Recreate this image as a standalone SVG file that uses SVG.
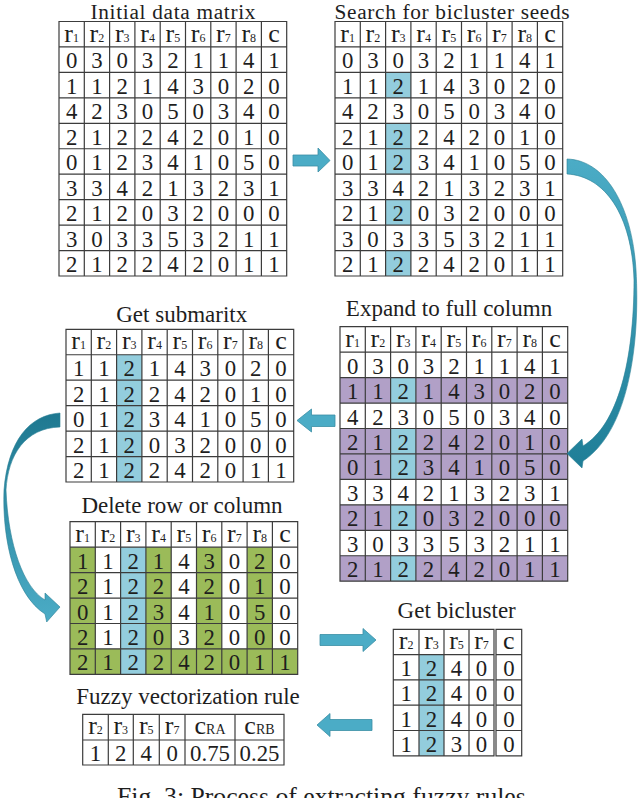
<svg xmlns="http://www.w3.org/2000/svg" xmlns:xlink="http://www.w3.org/1999/xlink" width="640" height="798" viewBox="0 0 640 798">
<style>
text{font-family:"Liberation Serif","Times New Roman",serif;fill:#1e1e1e}
.t{font-size:23px;text-anchor:middle}
.t2{font-size:21.3px;text-anchor:middle}
.d text{font-size:22.8px;text-anchor:middle}
.h,.d text.h{font-size:26px;text-anchor:middle}
.s{font-size:12px}
.sc{font-size:14px}
.grid{fill:none;stroke:#3c3c3c;stroke-width:1.2}
.b{fill:#93CDDD}
.p{fill:#B1A0C7}
.g{fill:#9BBB59}
.arr{fill:#4BACC6;stroke:#3A8EA5;stroke-width:0.8}
.cap{font-size:25.7px}
</style>
<defs>
<path id="g10" d="M0,0H227.7V254.5H0Z M25.3,0V254.5 M50.6,0V254.5 M75.9,0V254.5 M101.2,0V254.5 M126.5,0V254.5 M151.8,0V254.5 M177.1,0V254.5 M202.4,0V254.5 M0,25.45H227.7 M0,50.9H227.7 M0,76.35H227.7 M0,101.8H227.7 M0,127.25H227.7 M0,152.7H227.7 M0,178.15H227.7 M0,203.6H227.7 M0,229.05H227.7"/>
<path id="g6" d="M0,0H227.7V152.7H0Z M25.3,0V152.7 M50.6,0V152.7 M75.9,0V152.7 M101.2,0V152.7 M126.5,0V152.7 M151.8,0V152.7 M177.1,0V152.7 M202.4,0V152.7 M0,25.45H227.7 M0,50.9H227.7 M0,76.35H227.7 M0,101.8H227.7 M0,127.25H227.7"/>
<g id="hdr9"><text class="h" x="12.65">r<tspan class="s">1</tspan></text><text class="h" x="37.95">r<tspan class="s">2</tspan></text><text class="h" x="63.25">r<tspan class="s">3</tspan></text><text class="h" x="88.55">r<tspan class="s">4</tspan></text><text class="h" x="113.85">r<tspan class="s">5</tspan></text><text class="h" x="139.15">r<tspan class="s">6</tspan></text><text class="h" x="164.45">r<tspan class="s">7</tspan></text><text class="h" x="189.75">r<tspan class="s">8</tspan></text><text class="h" x="215.05">c</text></g>
<linearGradient id="gE" x1="0" y1="0" x2="0" y2="1"><stop offset="0" stop-color="#4BACC6"/><stop offset="1" stop-color="#1F7E97"/></linearGradient>
<linearGradient id="gF" x1="0" y1="0" x2="0" y2="1"><stop offset="0" stop-color="#1E7890"/><stop offset="1" stop-color="#4BACC6"/></linearGradient>
</defs>

<g id="initial-matrix">
<text class="t2" x="173" y="19" textLength="165" lengthAdjust="spacing">Initial data matrix</text>
<g transform="translate(59,21.5)">
<use href="#g10" class="grid"/>
<g class="d">
<g transform="translate(0,20)"><use href="#hdr9"/></g>
<g transform="translate(0,46.9)"><text x="12.65">0</text><text x="37.95">3</text><text x="63.25">0</text><text x="88.55">3</text><text x="113.85">2</text><text x="139.15">1</text><text x="164.45">1</text><text x="189.75">4</text><text x="215.05">1</text></g>
<g transform="translate(0,72.35)"><text x="12.65">1</text><text x="37.95">1</text><text x="63.25">2</text><text x="88.55">1</text><text x="113.85">4</text><text x="139.15">3</text><text x="164.45">0</text><text x="189.75">2</text><text x="215.05">0</text></g>
<g transform="translate(0,97.8)"><text x="12.65">4</text><text x="37.95">2</text><text x="63.25">3</text><text x="88.55">0</text><text x="113.85">5</text><text x="139.15">0</text><text x="164.45">3</text><text x="189.75">4</text><text x="215.05">0</text></g>
<g transform="translate(0,123.25)"><text x="12.65">2</text><text x="37.95">1</text><text x="63.25">2</text><text x="88.55">2</text><text x="113.85">4</text><text x="139.15">2</text><text x="164.45">0</text><text x="189.75">1</text><text x="215.05">0</text></g>
<g transform="translate(0,148.7)"><text x="12.65">0</text><text x="37.95">1</text><text x="63.25">2</text><text x="88.55">3</text><text x="113.85">4</text><text x="139.15">1</text><text x="164.45">0</text><text x="189.75">5</text><text x="215.05">0</text></g>
<g transform="translate(0,174.15)"><text x="12.65">3</text><text x="37.95">3</text><text x="63.25">4</text><text x="88.55">2</text><text x="113.85">1</text><text x="139.15">3</text><text x="164.45">2</text><text x="189.75">3</text><text x="215.05">1</text></g>
<g transform="translate(0,199.6)"><text x="12.65">2</text><text x="37.95">1</text><text x="63.25">2</text><text x="88.55">0</text><text x="113.85">3</text><text x="139.15">2</text><text x="164.45">0</text><text x="189.75">0</text><text x="215.05">0</text></g>
<g transform="translate(0,225.05)"><text x="12.65">3</text><text x="37.95">0</text><text x="63.25">3</text><text x="88.55">3</text><text x="113.85">5</text><text x="139.15">3</text><text x="164.45">2</text><text x="189.75">1</text><text x="215.05">1</text></g>
<g transform="translate(0,250.5)"><text x="12.65">2</text><text x="37.95">1</text><text x="63.25">2</text><text x="88.55">2</text><text x="113.85">4</text><text x="139.15">2</text><text x="164.45">0</text><text x="189.75">1</text><text x="215.05">1</text></g>
</g>
</g>
</g>

<g id="bicluster-seeds">
<text class="t2" x="452" y="19" textLength="235" lengthAdjust="spacing">Search for bicluster seeds</text>
<g transform="translate(335,21.5)">
<rect class="b" x="50.6" y="50.9" width="25.3" height="25.45"/>
<rect class="b" x="50.6" y="101.8" width="25.3" height="50.9"/>
<rect class="b" x="50.6" y="178.15" width="25.3" height="25.45"/>
<rect class="b" x="50.6" y="229.05" width="25.3" height="25.45"/>
<use href="#g10" class="grid"/>
<g class="d">
<g transform="translate(0,20)"><use href="#hdr9"/></g>
<g transform="translate(0,46.9)"><text x="12.65">0</text><text x="37.95">3</text><text x="63.25">0</text><text x="88.55">3</text><text x="113.85">2</text><text x="139.15">1</text><text x="164.45">1</text><text x="189.75">4</text><text x="215.05">1</text></g>
<g transform="translate(0,72.35)"><text x="12.65">1</text><text x="37.95">1</text><text x="63.25">2</text><text x="88.55">1</text><text x="113.85">4</text><text x="139.15">3</text><text x="164.45">0</text><text x="189.75">2</text><text x="215.05">0</text></g>
<g transform="translate(0,97.8)"><text x="12.65">4</text><text x="37.95">2</text><text x="63.25">3</text><text x="88.55">0</text><text x="113.85">5</text><text x="139.15">0</text><text x="164.45">3</text><text x="189.75">4</text><text x="215.05">0</text></g>
<g transform="translate(0,123.25)"><text x="12.65">2</text><text x="37.95">1</text><text x="63.25">2</text><text x="88.55">2</text><text x="113.85">4</text><text x="139.15">2</text><text x="164.45">0</text><text x="189.75">1</text><text x="215.05">0</text></g>
<g transform="translate(0,148.7)"><text x="12.65">0</text><text x="37.95">1</text><text x="63.25">2</text><text x="88.55">3</text><text x="113.85">4</text><text x="139.15">1</text><text x="164.45">0</text><text x="189.75">5</text><text x="215.05">0</text></g>
<g transform="translate(0,174.15)"><text x="12.65">3</text><text x="37.95">3</text><text x="63.25">4</text><text x="88.55">2</text><text x="113.85">1</text><text x="139.15">3</text><text x="164.45">2</text><text x="189.75">3</text><text x="215.05">1</text></g>
<g transform="translate(0,199.6)"><text x="12.65">2</text><text x="37.95">1</text><text x="63.25">2</text><text x="88.55">0</text><text x="113.85">3</text><text x="139.15">2</text><text x="164.45">0</text><text x="189.75">0</text><text x="215.05">0</text></g>
<g transform="translate(0,225.05)"><text x="12.65">3</text><text x="37.95">0</text><text x="63.25">3</text><text x="88.55">3</text><text x="113.85">5</text><text x="139.15">3</text><text x="164.45">2</text><text x="189.75">1</text><text x="215.05">1</text></g>
<g transform="translate(0,250.5)"><text x="12.65">2</text><text x="37.95">1</text><text x="63.25">2</text><text x="88.55">2</text><text x="113.85">4</text><text x="139.15">2</text><text x="164.45">0</text><text x="189.75">1</text><text x="215.05">1</text></g>
</g>
</g>
</g>

<g id="expand-full-column">
<text class="t" x="449" y="316">Expand to full column</text>
<g transform="translate(340,326.7)">
<rect class="p" x="0" y="50.9" width="227.7" height="25.45"/>
<rect class="p" x="0" y="101.8" width="227.7" height="50.9"/>
<rect class="p" x="0" y="178.15" width="227.7" height="25.45"/>
<rect class="p" x="0" y="229.05" width="227.7" height="25.45"/>
<rect class="b" x="50.6" y="50.9" width="25.3" height="25.45"/>
<rect class="b" x="50.6" y="101.8" width="25.3" height="50.9"/>
<rect class="b" x="50.6" y="178.15" width="25.3" height="25.45"/>
<rect class="b" x="50.6" y="229.05" width="25.3" height="25.45"/>
<use href="#g10" class="grid"/>
<g class="d">
<g transform="translate(0,20)"><use href="#hdr9"/></g>
<g transform="translate(0,46.9)"><text x="12.65">0</text><text x="37.95">3</text><text x="63.25">0</text><text x="88.55">3</text><text x="113.85">2</text><text x="139.15">1</text><text x="164.45">1</text><text x="189.75">4</text><text x="215.05">1</text></g>
<g transform="translate(0,72.35)"><text x="12.65">1</text><text x="37.95">1</text><text x="63.25">2</text><text x="88.55">1</text><text x="113.85">4</text><text x="139.15">3</text><text x="164.45">0</text><text x="189.75">2</text><text x="215.05">0</text></g>
<g transform="translate(0,97.8)"><text x="12.65">4</text><text x="37.95">2</text><text x="63.25">3</text><text x="88.55">0</text><text x="113.85">5</text><text x="139.15">0</text><text x="164.45">3</text><text x="189.75">4</text><text x="215.05">0</text></g>
<g transform="translate(0,123.25)"><text x="12.65">2</text><text x="37.95">1</text><text x="63.25">2</text><text x="88.55">2</text><text x="113.85">4</text><text x="139.15">2</text><text x="164.45">0</text><text x="189.75">1</text><text x="215.05">0</text></g>
<g transform="translate(0,148.7)"><text x="12.65">0</text><text x="37.95">1</text><text x="63.25">2</text><text x="88.55">3</text><text x="113.85">4</text><text x="139.15">1</text><text x="164.45">0</text><text x="189.75">5</text><text x="215.05">0</text></g>
<g transform="translate(0,174.15)"><text x="12.65">3</text><text x="37.95">3</text><text x="63.25">4</text><text x="88.55">2</text><text x="113.85">1</text><text x="139.15">3</text><text x="164.45">2</text><text x="189.75">3</text><text x="215.05">1</text></g>
<g transform="translate(0,199.6)"><text x="12.65">2</text><text x="37.95">1</text><text x="63.25">2</text><text x="88.55">0</text><text x="113.85">3</text><text x="139.15">2</text><text x="164.45">0</text><text x="189.75">0</text><text x="215.05">0</text></g>
<g transform="translate(0,225.05)"><text x="12.65">3</text><text x="37.95">0</text><text x="63.25">3</text><text x="88.55">3</text><text x="113.85">5</text><text x="139.15">3</text><text x="164.45">2</text><text x="189.75">1</text><text x="215.05">1</text></g>
<g transform="translate(0,250.5)"><text x="12.65">2</text><text x="37.95">1</text><text x="63.25">2</text><text x="88.55">2</text><text x="113.85">4</text><text x="139.15">2</text><text x="164.45">0</text><text x="189.75">1</text><text x="215.05">1</text></g>
</g>
</g>
</g>

<g id="submatrix">
<text class="t" x="181.7" y="321.7">Get submaritx</text>
<g transform="translate(66,329.3)">
<rect class="b" x="50.6" y="25.45" width="25.3" height="127.25"/>
<use href="#g6" class="grid"/>
<g class="d">
<g transform="translate(0,20)"><use href="#hdr9"/></g>
<g transform="translate(0,46.9)"><text x="12.65">1</text><text x="37.95">1</text><text x="63.25">2</text><text x="88.55">1</text><text x="113.85">4</text><text x="139.15">3</text><text x="164.45">0</text><text x="189.75">2</text><text x="215.05">0</text></g>
<g transform="translate(0,72.35)"><text x="12.65">2</text><text x="37.95">1</text><text x="63.25">2</text><text x="88.55">2</text><text x="113.85">4</text><text x="139.15">2</text><text x="164.45">0</text><text x="189.75">1</text><text x="215.05">0</text></g>
<g transform="translate(0,97.8)"><text x="12.65">0</text><text x="37.95">1</text><text x="63.25">2</text><text x="88.55">3</text><text x="113.85">4</text><text x="139.15">1</text><text x="164.45">0</text><text x="189.75">5</text><text x="215.05">0</text></g>
<g transform="translate(0,123.25)"><text x="12.65">2</text><text x="37.95">1</text><text x="63.25">2</text><text x="88.55">0</text><text x="113.85">3</text><text x="139.15">2</text><text x="164.45">0</text><text x="189.75">0</text><text x="215.05">0</text></g>
<g transform="translate(0,148.7)"><text x="12.65">2</text><text x="37.95">1</text><text x="63.25">2</text><text x="88.55">2</text><text x="113.85">4</text><text x="139.15">2</text><text x="164.45">0</text><text x="189.75">1</text><text x="215.05">1</text></g>
</g>
</g>
</g>

<g id="delete-row-column">
<text class="t" x="182" y="512.7">Delete row or column</text>
<g transform="translate(70,521.7)">
<rect class="g" x="0" y="25.45" width="25.3" height="101.8"/>
<rect class="g" x="75.9" y="25.45" width="25.3" height="101.8"/>
<rect class="g" x="126.5" y="25.45" width="25.3" height="101.8"/>
<rect class="g" x="177.1" y="25.45" width="25.3" height="101.8"/>
<rect class="g" x="0" y="127.25" width="227.7" height="25.45"/>
<rect class="b" x="50.6" y="25.45" width="25.3" height="127.25"/>
<use href="#g6" class="grid"/>
<g class="d">
<g transform="translate(0,20)"><use href="#hdr9"/></g>
<g transform="translate(0,46.9)"><text x="12.65">1</text><text x="37.95">1</text><text x="63.25">2</text><text x="88.55">1</text><text x="113.85">4</text><text x="139.15">3</text><text x="164.45">0</text><text x="189.75">2</text><text x="215.05">0</text></g>
<g transform="translate(0,72.35)"><text x="12.65">2</text><text x="37.95">1</text><text x="63.25">2</text><text x="88.55">2</text><text x="113.85">4</text><text x="139.15">2</text><text x="164.45">0</text><text x="189.75">1</text><text x="215.05">0</text></g>
<g transform="translate(0,97.8)"><text x="12.65">0</text><text x="37.95">1</text><text x="63.25">2</text><text x="88.55">3</text><text x="113.85">4</text><text x="139.15">1</text><text x="164.45">0</text><text x="189.75">5</text><text x="215.05">0</text></g>
<g transform="translate(0,123.25)"><text x="12.65">2</text><text x="37.95">1</text><text x="63.25">2</text><text x="88.55">0</text><text x="113.85">3</text><text x="139.15">2</text><text x="164.45">0</text><text x="189.75">0</text><text x="215.05">0</text></g>
<g transform="translate(0,148.7)"><text x="12.65">2</text><text x="37.95">1</text><text x="63.25">2</text><text x="88.55">2</text><text x="113.85">4</text><text x="139.15">2</text><text x="164.45">0</text><text x="189.75">1</text><text x="215.05">1</text></g>
</g>
</g>
</g>

<g id="get-bicluster">
<text class="t" x="456.7" y="618">Get bicluster</text>
<g transform="translate(393.3,629.3)">
<rect class="b" x="25.7" y="25.3" width="25" height="101.2"/>
<path class="grid" d="M0,0H100.7V126.5H0Z M102.7,0H128.4V126.5H102.7Z M25.7,0V126.5 M50.7,0V126.5 M75.7,0V126.5 M0,25.3H100.7 M0,50.6H100.7 M0,75.9H100.7 M0,101.2H100.7 M102.7,25.3H128.4 M102.7,50.6H128.4 M102.7,75.9H128.4 M102.7,101.2H128.4"/>
<g class="d">
<g transform="translate(0,20)"><text class="h" x="12.85">r<tspan class="s">2</tspan></text><text class="h" x="38.2">r<tspan class="s">3</tspan></text><text class="h" x="63.2">r<tspan class="s">5</tspan></text><text class="h" x="88.2">r<tspan class="s">7</tspan></text><text class="h" x="115.55">c</text></g>
<g transform="translate(0,46.6)"><text x="12.85">1</text><text x="38.2">2</text><text x="63.2">4</text><text x="88.2">0</text><text x="115.55">0</text></g>
<g transform="translate(0,71.9)"><text x="12.85">1</text><text x="38.2">2</text><text x="63.2">4</text><text x="88.2">0</text><text x="115.55">0</text></g>
<g transform="translate(0,97.2)"><text x="12.85">1</text><text x="38.2">2</text><text x="63.2">4</text><text x="88.2">0</text><text x="115.55">0</text></g>
<g transform="translate(0,122.5)"><text x="12.85">1</text><text x="38.2">2</text><text x="63.2">3</text><text x="88.2">0</text><text x="115.55">0</text></g>
</g>
</g>
</g>

<g id="fuzzy-rule">
<text class="t" x="188" y="704">Fuzzy vectorization rule</text>
<g transform="translate(82.7,714.3)">
<path class="grid" d="M0,0H201.3V50.7H0Z M25.6,0V50.7 M50.6,0V50.7 M76.6,0V50.7 M102.3,0V50.7 M152.3,0V50.7 M0,25.7H201.3"/>
<g class="d">
<g transform="translate(0,20)"><text class="h" x="12.8">r<tspan class="s">2</tspan></text><text class="h" x="38.1">r<tspan class="s">3</tspan></text><text class="h" x="63.6">r<tspan class="s">5</tspan></text><text class="h" x="89.45">r<tspan class="s">7</tspan></text><text class="h" x="127.3">c<tspan class="sc">RA</tspan></text><text class="h" x="176.8">c<tspan class="sc">RB</tspan></text></g>
<g transform="translate(0,46.7)"><text x="12.8">1</text><text x="38.1">2</text><text x="63.6">4</text><text x="89.45">0</text><text x="127.3">0.75</text><text x="176.8">0.25</text></g>
</g>
</g>
</g>

<g id="connectors">
<polygon class="arr" points="293,155 318,155 318,148 330,160.5 318,172 318,166 293,166"/>
<path fill="url(#gE)" stroke="#2A7F95" stroke-width="0.6" d="M567,159 C605,160 632,205 636,270 C640,340 630,430 583,461 L582,468 L567,453.5 L582,439 L583,446 C618,425 634,360 634,280 C632,215 605,176 567,174 Z"/>
<polygon class="arr" points="335,415 311.5,415 311.5,409 297,420.5 311.5,432 311.5,426.5 335,426.5"/>
<path fill="url(#gF)" stroke="#2A7F95" stroke-width="0.6" d="M60,413 C30,415 8,440 4,490 C2,540 15,595 45,614 L46.7,622 L60,607 L45,593 L45,600 C24,588 8,545 6,490 C8,455 25,428 60,427 Z"/>
<polygon class="arr" points="320,634.5 363,634.5 363,628.5 376,640 363,651.5 363,645.5 320,645.5"/>
<polygon class="arr" points="372,719.5 330,719.5 330,713.5 317,725 330,736.5 330,730.5 372,730.5"/>
</g>

<g id="caption">
<text class="cap" x="117" y="805">Fig. 3: Process of extracting fuzzy rules</text>
</g>
</svg>
